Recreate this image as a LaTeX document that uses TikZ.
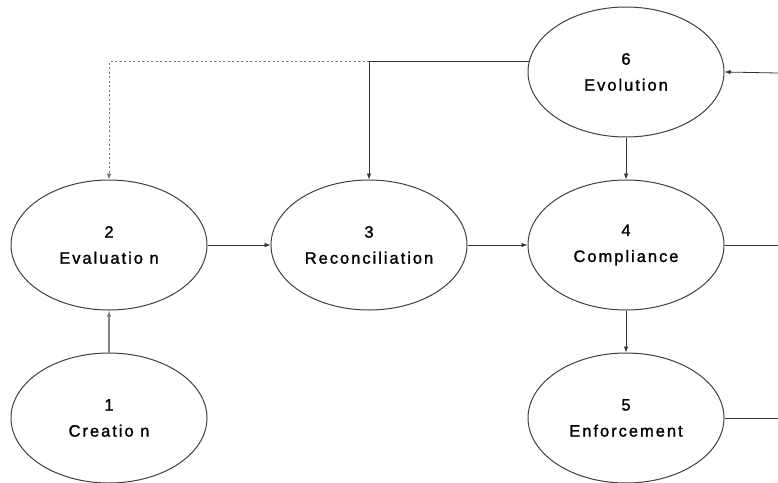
\documentclass[tikz,border=0pt]{standalone}
\usepackage{fontspec}
\setmainfont[LetterSpace=12,FakeBold=1.4]{Liberation Sans}
\usetikzlibrary{shapes.geometric,arrows.meta,positioning}

\begin{document}
\begin{tikzpicture}[x=1pt, y=-1pt,
    stagebox/.style={ellipse, draw=black!75, line width=1pt, fill=white, align=center,
        minimum width=196pt, minimum height=130pt, inner sep=0pt,
        font=\fontsize{16.5}{26}\selectfont},
    arrow/.style={-{Latex[length=6pt,width=4.5pt]}, line width=0.8pt, draw=black!80},
    plain/.style={line width=0.8pt, draw=black!80},
    dotarrow/.style={arrow, draw=black!55, dash pattern=on 2pt off 2.5pt}]

    \useasboundingbox (0,0) rectangle (778,482);

    % Stages
    \node[stagebox] (evol) at (626, 72) {6\\Evolution};
    \node[stagebox] (eval) at (109, 245) {2\\Evaluatio n};
    \node[stagebox] (rec) at (369, 245) {3\\Reconciliation};
    \node[stagebox] (comp) at (626, 245) {4\\Compliance};
    \node[stagebox] (crea) at (109, 418) {1\\Creatio n};
    \node[stagebox] (enf) at (626, 418) {5\\Enforcement};

    % Free ends at the right margin
    \coordinate (inevol) at (778, 73);
    \coordinate (outcomp) at (778, 245);
    \coordinate (outenf) at (778, 418);

    % Arrows
    \draw[arrow, draw=black!50, line width=1.4pt] (crea.north) -- (eval.south);
    \draw[arrow] (eval.east) -- (rec.west);
    \draw[arrow] (rec.east) -- (comp.west);
    \draw[arrow] (comp.south) -- (enf.north);
    \draw[arrow] (evol.south) -- (comp.north);
    \draw[arrow] (evol.174) -| (rec.north);
    \draw[dotarrow] (rec.north |- evol.174) -| (eval.north);
    \draw[arrow] (inevol) -- (evol.east);
    \draw[plain] (comp.east) -- (outcomp);
    \draw[plain] (enf.east) -- (outenf);

\end{tikzpicture}
\end{document}
